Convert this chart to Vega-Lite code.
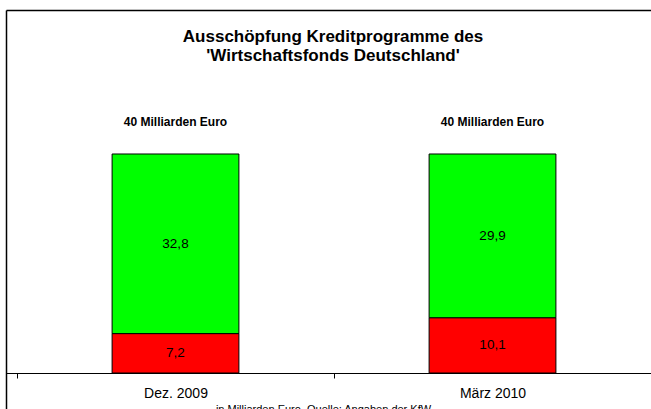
{
  "$schema": "https://vega.github.io/schema/vega-lite/v6.json",
  "autosize": "none",
  "width": 694,
  "height": 420,
  "padding": {"left": 6, "top": 10, "right": -49, "bottom": -21},
  "background": "white",
  "config": {
    "view": {"stroke": null},
    "font": "Liberation Sans",
    "axis": {"grid": false},
    "locale": {"number": {"decimal": ",", "thousands": ".", "grouping": [3], "currency": ["", " €"]}}
  },
  "title": {
    "text": ["Ausschöpfung Kreditprogramme des", "'Wirtschaftsfonds Deutschland'"],
    "anchor": "middle",
    "frame": "group",
    "orient": "top",
    "baseline": "top",
    "offset": -55,
    "dx": -20,
    "fontSize": 17,
    "fontWeight": "bold",
    "lineHeight": 19,
    "color": "black",
    "font": "Liberation Sans"
  },
  "data": {
    "values": [
      {"date": "Dez. 2009", "part": "in Anspruch genommen", "value": 7.2, "order": 1},
      {"date": "Dez. 2009", "part": "noch verfügbar", "value": 32.8, "order": 2},
      {"date": "März 2010", "part": "in Anspruch genommen", "value": 10.1, "order": 1},
      {"date": "März 2010", "part": "noch verfügbar", "value": 29.9, "order": 2}
    ]
  },
  "transform": [
    {"stack": "value", "groupby": ["date"], "sort": [{"field": "order", "order": "ascending"}], "as": ["v0", "v1"]}
  ],
  "resolve": {"axis": {"x": "independent"}},
  "layer": [
    {
      "mark": {"type": "bar", "stroke": "black", "strokeWidth": 1, "width": {"band": 0.4}},
      "encoding": {
        "x": {
          "field": "date",
          "type": "nominal",
          "sort": null,
          "scale": {"paddingInner": 0, "paddingOuter": 0.0946, "align": 0.1833},
          "axis": {
            "title": "- in Milliarden Euro, Quelle: Angaben der KfW -",
            "orient": "bottom",
            "offset": -57,
            "labelAngle": 0,
            "labelFontSize": 14,
            "labelColor": "black",
            "labelPadding": 8,
            "tickBand": "extent",
            "tickSize": 5,
            "tickColor": "black",
            "tickWidth": 1,
            "domainColor": "black",
            "domainWidth": 1,
            "grid": false,
            "titleFontSize": 11,
            "titleFontWeight": "normal",
            "titleColor": "black",
            "titlePadding": 3,
            "titleX": 317,
            "titleBaseline": "top"
          }
        },
        "y": {
          "field": "v0",
          "type": "quantitative",
          "scale": {"domain": [-10.41, 66.3], "nice": false, "zero": false},
          "axis": {"orient": "left", "labels": false, "ticks": false, "title": null, "grid": false, "domainColor": "black", "domainWidth": 1.5}
        },
        "y2": {"field": "v1"},
        "color": {
          "field": "part",
          "type": "nominal",
          "scale": {"domain": ["in Anspruch genommen", "noch verfügbar"], "range": ["#ff0000", "#00ff00"]},
          "legend": null
        }
      }
    },
    {
      "transform": [
        {"fold": ["v0", "v1"], "as": ["edge", "pos"]},
        {"aggregate": [{"op": "mean", "field": "pos", "as": "mid"}], "groupby": ["date", "value"]}
      ],
      "mark": {"type": "text", "fontSize": 13.5, "baseline": "middle", "align": "center", "color": "black"},
      "encoding": {
        "x": {
          "field": "date",
          "type": "nominal",
          "sort": null,
          "axis": {"orient": "top", "labels": false, "ticks": false, "title": null, "grid": false, "domainColor": "black", "domainWidth": 1.5}
        },
        "y": {"field": "mid", "type": "quantitative"},
        "text": {"field": "value", "type": "quantitative", "format": ".1f"}
      }
    },
    {
      "transform": [
        {"aggregate": [{"op": "max", "field": "v1", "as": "top"}], "groupby": ["date"]}
      ],
      "mark": {"type": "text", "fontSize": 12, "fontWeight": "bold", "baseline": "middle", "align": "center", "color": "black", "dy": -32},
      "encoding": {
        "x": {"field": "date", "type": "nominal", "sort": null, "axis": null},
        "y": {"field": "top", "type": "quantitative"},
        "text": {"value": "40 Milliarden Euro"}
      }
    }
  ]
}
